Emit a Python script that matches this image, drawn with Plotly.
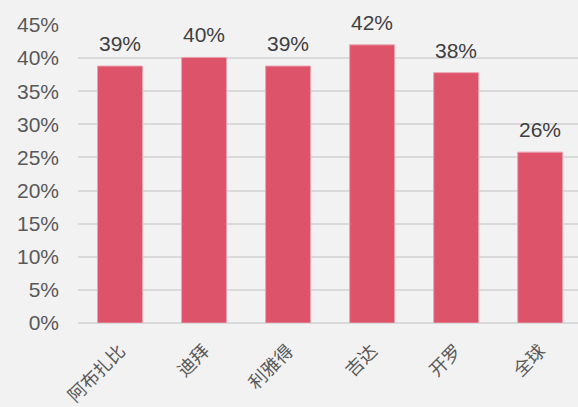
import plotly.graph_objects as go

cities = ['阿布扎比', '迪拜', '利雅得', '吉达', '开罗', '全球']
shares = [0.388, 0.401, 0.388, 0.420, 0.378, 0.258]
y_ticks = [0, 0.05, 0.10, 0.15, 0.20, 0.25, 0.30, 0.35, 0.40, 0.45]

font_family = 'Liberation Sans, Arial, Noto Sans CJK SC, sans-serif'

fig = go.Figure()
fig.add_trace(
    go.Bar(
        x=cities,
        y=shares,
        width=0.535,
        marker=dict(color='#dc536a', line=dict(color='#eaa3ae', width=1)),
        showlegend=False,
        hoverinfo='skip',
    )
)

# data labels above the bars
for c, v in zip(cities, shares):
    fig.add_annotation(
        x=c, y=v, text=f'{v:.0%}', showarrow=False,
        yanchor='bottom', yshift=9,
        font=dict(family=font_family, size=21, color='#404040'),
    )

fig.update_xaxes(
    range=[-0.5, 5.45],
    tickangle=-45,
    tickfont=dict(family='Noto Sans CJK SC, sans-serif', size=18, color='#595959'),
    ticklabelstandoff=13,
    showgrid=False,
    showline=False,
    ticks='',
)
fig.update_yaxes(
    range=[0, 0.45],
    tickvals=y_ticks,
    ticktext=[f'{t:.0%}' for t in y_ticks],
    tickfont=dict(family=font_family, size=21, color='#595959'),
    ticklabelstandoff=18,
    showgrid=True,
    gridcolor='#d9d9d9',
    gridwidth=2,
    zeroline=True,
    zerolinecolor='#d9d9d9',
    zerolinewidth=2,
    ticks='',
)
fig.update_layout(
    width=578,
    height=407,
    margin=dict(l=78, r=0, t=25, b=84),
    paper_bgcolor='#f2f2f2',
    plot_bgcolor='#f2f2f2',
)

fig.write_html(
    'out.html',
    config={'displayModeBar': False},
    post_script="document.body.style.margin='0';document.body.style.background='#f2f2f2';",
)
